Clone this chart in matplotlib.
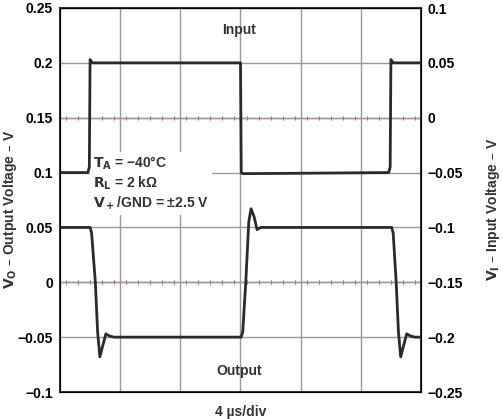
import matplotlib.pyplot as plt

plt.rcParams['font.family'] = ['Liberation Sans', 'DejaVu Sans']
plt.rcParams['font.weight'] = 'bold'

# time in microseconds, values in volts
input_t = [0, 1.85, 1.95, 2.0, 2.15, 2.3, 12.0, 12.05, 12.15, 21.85, 21.95, 22.0, 22.15, 22.3, 24]
input_v = [-0.05, -0.05, -0.045, 0.053, 0.05, 0.05, 0.05, -0.05, -0.051, -0.05, -0.045, 0.053, 0.05, 0.05, 0.05]

output_t = [0, 2.0, 2.1, 2.35, 2.5, 2.65, 2.8, 3.05, 3.3, 3.6, 12.05, 12.15, 12.35, 12.55, 12.7, 12.9, 13.1, 13.35, 13.7,
            22.05, 22.15, 22.35, 22.5, 22.65, 22.8, 23.05, 23.3, 23.6, 24]
output_v = [0.05, 0.05, 0.045, 0.0, -0.045, -0.068, -0.06, -0.047, -0.049, -0.05, -0.05, -0.045, 0.0, 0.055, 0.067, 0.06, 0.048, 0.05, 0.05,
            0.05, 0.045, 0.0, -0.045, -0.068, -0.06, -0.047, -0.049, -0.05, -0.05]

left_ticks = [-0.1, -0.05, 0, 0.05, 0.1, 0.15, 0.2, 0.25]
left_labels = ['\u22120.1', '\u22120.05', '0', '0.05', '0.1', '0.15', '0.2', '0.25']
right_ticks = [-0.25, -0.2, -0.15, -0.1, -0.05, 0, 0.05, 0.1]
right_labels = ['\u22120.25', '\u22120.2', '\u22120.15', '\u22120.1', '\u22120.05', '0', '0.05', '0.1']

fs = 10
fig = plt.figure(figsize=(5.03, 4.19), dpi=100)
ax = fig.add_axes([60/503, 27/419, 361/503, 384/419])
ax.set_xlim(0, 24)
ax.set_ylim(-0.1, 0.25)
ax.set_xticks([4, 8, 12, 16, 20])
ax.set_xticklabels([])
ax.tick_params(axis='x', length=0)
ax.set_yticks(left_ticks)
ax.set_yticklabels(left_labels, fontsize=fs, fontweight='bold')
ax.tick_params(axis='y', length=0, pad=5)
ax.grid(True, color='#999999', lw=1)
for y in [0, 0.15]:
    ax.axhline(y, color='#999999', lw=1, zorder=1)
    ax.plot([0.4 + i * 0.8 for i in range(30)], [y] * 30, '|', color='#e04040', ms=3, mew=0.8, zorder=1)
for s in ax.spines.values():
    s.set_color('#333333')
    s.set_linewidth(1.5)

ax2 = ax.twinx()
ax2.set_ylim(-0.25, 0.1)
ax2.set_yticks(right_ticks)
ax2.set_yticklabels(right_labels, fontsize=fs, fontweight='bold')
ax2.tick_params(axis='y', length=0, pad=5)

ax2.plot(input_t, input_v, color='#2a2a2a', lw=2)
ax.plot(output_t, output_v, color='#2a2a2a', lw=2)

ax.text(0.495, 0.942, 'Input', transform=ax.transAxes, ha='center', va='center', fontsize=fs, fontweight='bold', color='#333333')
ax.text(0.495, 0.055, 'Output', transform=ax.transAxes, ha='center', va='center', fontsize=fs, fontweight='bold', color='#333333')
ax.text(2.2, 0.068,
        '$\\mathbf{T_A}$ = \u221240\u00b0C\n$\\mathbf{R_L}$ = 2 k\u03a9\n$\\mathbf{V_+}$/GND = \u00b12.5 V',
        fontsize=fs, fontweight='bold', color='#333333', linespacing=1.2,
        bbox=dict(facecolor='white', edgecolor='none', pad=2), zorder=5)

fig.text(10/503, 0.5, '$\\mathbf{V_O}$ \u2013 Output Voltage \u2013 V', rotation=90, ha='center', va='center',
         fontsize=fs, fontweight='bold', color='#333333')
fig.text(493/503, 0.5, '$\\mathbf{V_I}$ \u2013 Input Voltage \u2013 V', rotation=90, ha='center', va='center',
         fontsize=fs, fontweight='bold', color='#333333')
ax.set_xlabel('4 \u00b5s/div', fontsize=fs, fontweight='bold', color='#333333', labelpad=6)
ax2.grid(False)

fig.savefig('out.png', dpi=100)
